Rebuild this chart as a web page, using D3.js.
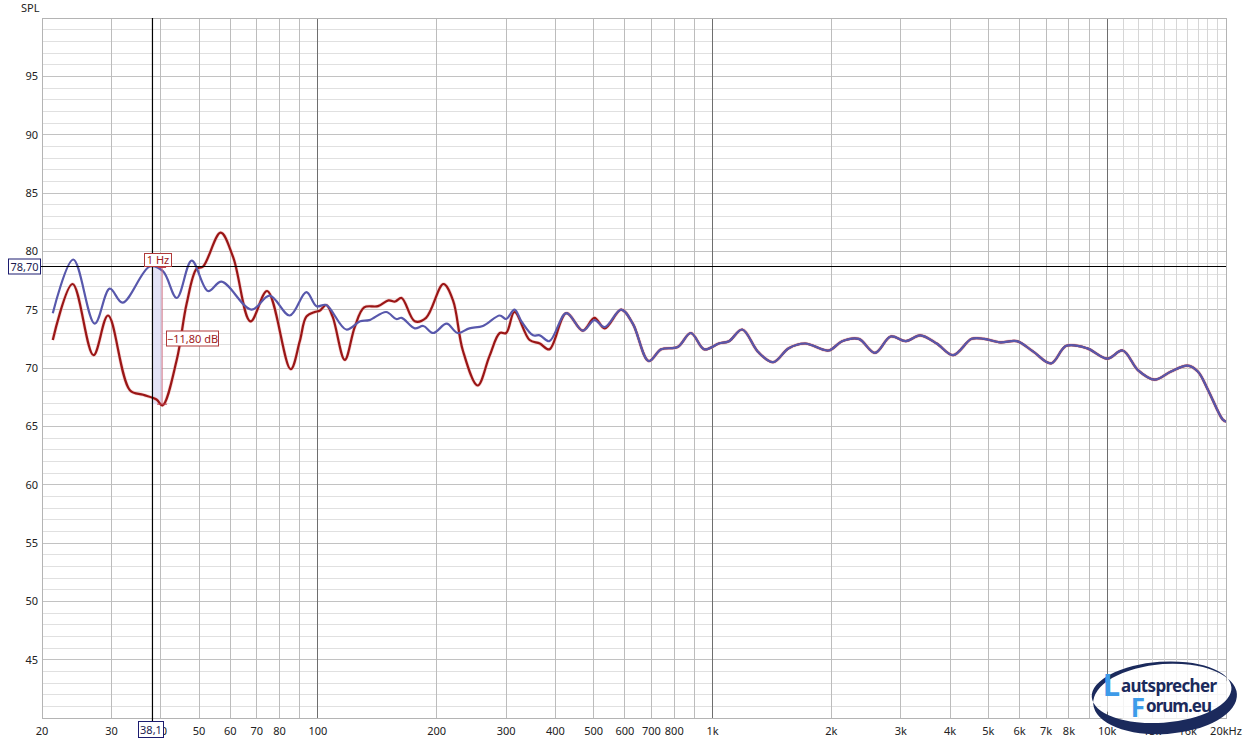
<!DOCTYPE html>
<html>
<head>
<meta charset="utf-8">
<script src="https://cdn.jsdelivr.net/npm/d3@7"></script>
<style>
  body { margin: 0; background: #fff; }
  svg text { font-family: "Noto Sans", "Open Sans", sans-serif; }
</style>
</head>
<body>
<svg id="chart" width="1246" height="743"></svg>
<script>
/* global d3 */
// measured SPL (dB) vs frequency (Hz)
const redFreq = [21.3, 23.9, 27.0, 29.4, 33.4, 36.1, 39.0, 40.4, 43.9, 46.5, 49.3, 51.2, 56.7, 61.0, 67.5, 74.4,
  85.3, 90, 93.5, 98.2, 101, 105, 109, 117, 124, 131, 142, 151, 157, 163, 176, 188, 208, 220, 233, 254, 272, 289,
  300, 315, 344, 365, 386, 426, 469, 502, 533];
const redSpl = [72.4, 77.2, 71.1, 74.5, 68.1, 67.7, 67.3, 66.8, 70.7, 75.5, 78.5, 78.7, 81.6, 79.5, 74.0, 76.6,
  69.9, 72.3, 74.4, 74.8, 74.9, 75.4, 74.4, 70.7, 73.5, 75.2, 75.3, 75.8, 75.7, 76.0, 74.0, 74.3, 77.2, 75.8, 71.5,
  68.5, 71.0, 73.0, 73.0, 74.8, 72.4, 72.1, 71.6, 74.7, 73.2, 74.3, 73.4];

const blueFreq = [21.3, 24.0, 27.2, 29.7, 32.0, 37.5, 40.5, 43.9, 47.9, 52.7, 57.0, 67.9, 75.5, 84.9, 93.5, 99.2,
  105, 118, 128, 135, 149, 158, 163, 176, 185, 196, 212, 226, 242, 262, 289, 300, 315, 328, 351, 365, 386, 426,
  469, 502, 533];
const blueSpl = [74.7, 79.3, 73.8, 76.8, 75.6, 78.7, 78.3, 76.0, 79.2, 76.6, 77.4, 75.0, 76.2, 74.5, 76.5, 75.3,
  75.4, 73.3, 74.0, 74.1, 74.8, 74.2, 74.3, 73.4, 73.6, 73.0, 73.8, 73.0, 73.4, 73.6, 74.5, 74.2, 75.0, 74.0, 72.8,
  72.8, 72.3, 74.7, 73.2, 74.1, 73.5];

// above ~550 Hz both traces coincide
const sharedFreq = [587, 628, 689, 741, 816, 881, 953, 1037, 1101, 1189, 1303, 1424, 1560, 1717, 1968, 2130, 2346,
  2580, 2828, 3090, 3360, 3698, 4070, 4534, 4874, 5364, 5904, 6500, 7208, 7876, 8880, 10006, 10940, 11982, 13188,
  14512, 15982, 16970, 18018, 19594, 20000];
const sharedSpl = [75.0, 73.8, 70.6, 71.6, 71.8, 73.0, 71.6, 72.1, 72.3, 73.3, 71.4, 70.5, 71.7, 72.1, 71.5, 72.3,
  72.5, 71.3, 72.7, 72.3, 72.8, 72.1, 71.1, 72.5, 72.5, 72.2, 72.3, 71.4, 70.4, 71.9, 71.7, 70.8, 71.5, 69.8, 69.0,
  69.7, 70.2, 69.7, 68.1, 65.6, 65.4];

const yTicks = [45, 50, 55, 60, 65, 70, 75, 80, 85, 90, 95];
const xTickValues = [20, 30, 40, 50, 60, 70, 80, 100, 200, 300, 400, 500, 600, 700, 800, 1000, 2000, 3000, 4000,
  5000, 6000, 7000, 8000, 10000, 13000, 16000, 20000];
const xTickLabels = ['20', '30', '40', '50', '60', '70', '80', '100', '200', '300', '400', '500', '600', '700',
  '800', '1k', '2k', '3k', '4k', '5k', '6k', '7k', '8k', '10k', '13k', '16k', '20kHz'];

const cursorFreq = 38.1;
const cursorSpl = 78.70;
const markerFreq = 40.3;
const markerDelta = -11.80;

const main = () => {
  const svg = d3.select('#chart');
  const left = 42;
  const right = 1226;
  const top = 18;
  const bottom = 718;

  const x = d3.scaleLog().domain([20, 20000]).range([left, right]);
  const y = d3.scaleLinear().domain([40, 100]).range([bottom, top]);

  // grid
  const grid = svg.append('g').attr('shape-rendering', 'crispEdges');
  d3.range(41, 100).forEach((v) => {
    grid.append('line')
      .attr('x1', left).attr('x2', right).attr('y1', y(v)).attr('y2', y(v))
      .attr('stroke', v % 5 === 0 ? '#c2c2c2' : '#e0e0e0');
  });
  const minor = [];
  [10, 100, 1000].forEach((d) => {
    for (let k = 2; k <= 9; k += 1) {
      if (d * k > 20) minor.push(d * k);
    }
  });
  minor.forEach((f) => {
    grid.append('line')
      .attr('x1', x(f)).attr('x2', x(f)).attr('y1', top).attr('y2', bottom)
      .attr('stroke', '#bcbcbc');
  });
  d3.range(11, 20).forEach((k) => {
    grid.append('line')
      .attr('x1', x(k * 1000)).attr('x2', x(k * 1000)).attr('y1', top).attr('y2', bottom)
      .attr('stroke', '#d6d6d6');
  });
  [100, 1000, 10000].forEach((f) => {
    grid.append('line')
      .attr('x1', x(f)).attr('x2', x(f)).attr('y1', top).attr('y2', bottom)
      .attr('stroke', '#6e6e6e');
  });
  grid.append('rect')
    .attr('x', left).attr('y', top).attr('width', right - left).attr('height', bottom - top)
    .attr('fill', 'none').attr('stroke', '#b4b4b4');

  // axis labels
  svg.append('text').attr('x', 21).attr('y', 12).attr('font-size', 11).attr('fill', '#222').text('SPL');
  svg.append('g').selectAll('text').data(yTicks).enter().append('text')
    .attr('x', 38).attr('y', (d) => y(d) + 4)
    .attr('text-anchor', 'end').attr('font-size', 11).attr('fill', '#222')
    .text((d) => d);
  svg.append('g').selectAll('text').data(xTickValues).enter().append('text')
    .attr('x', (d) => x(d)).attr('y', 735)
    .attr('text-anchor', 'middle').attr('font-size', 11).attr('fill', '#222')
    .text((d, i) => xTickLabels[i]);

  // traces
  const toPoints = (fs, vs) => fs.map((f, i) => ({ f, v: vs[i] }));
  const shared = toPoints(sharedFreq, sharedSpl);
  const redData = toPoints(redFreq, redSpl).concat(shared);
  const blueData = toPoints(blueFreq, blueSpl).concat(shared);

  svg.append('clipPath').attr('id', 'plotClip').append('rect')
    .attr('x', left).attr('y', top).attr('width', right - left).attr('height', bottom - top);

  const line = d3.line()
    .x((d) => x(d.f))
    .y((d) => y(d.v))
    .curve(d3.curveCatmullRom.alpha(0.5));

  const traces = svg.append('g').attr('clip-path', 'url(#plotClip)');

  // delta marker shading
  const cx = x(cursorFreq);
  const mx = x(markerFreq);
  const markerSpl = cursorSpl + markerDelta;
  traces.append('rect')
    .attr('x', cx).attr('y', y(cursorSpl)).attr('width', mx - cx).attr('height', y(markerSpl) - y(cursorSpl))
    .attr('fill', '#d8d8f4').attr('opacity', 0.7);

  traces.append('path').datum(redData)
    .attr('d', line).attr('fill', 'none')
    .attr('stroke', '#f0b8b8').attr('stroke-width', 3.6).attr('opacity', 0.6);
  traces.append('path').datum(redData)
    .attr('d', line).attr('fill', 'none')
    .attr('stroke', '#9a1616').attr('stroke-width', 2.2);
  traces.append('path').datum(blueData)
    .attr('d', line).attr('fill', 'none')
    .attr('stroke', '#5858ac').attr('stroke-width', 2.2);

  // marker
  traces.append('line')
    .attr('x1', mx).attr('x2', mx).attr('y1', y(cursorSpl)).attr('y2', y(markerSpl))
    .attr('stroke', '#d07080').attr('stroke-width', 1);
  traces.append('line')
    .attr('x1', mx - 4).attr('x2', mx + 4).attr('y1', y(cursorSpl) + 1).attr('y2', y(cursorSpl) + 1)
    .attr('stroke', '#c04050').attr('stroke-width', 1);
  traces.append('line')
    .attr('x1', mx - 5).attr('x2', mx + 5).attr('y1', y(markerSpl)).attr('y2', y(markerSpl))
    .attr('stroke', '#c04050').attr('stroke-width', 1);

  // cursor lines
  svg.append('line')
    .attr('x1', cx).attr('x2', cx).attr('y1', top).attr('y2', 722)
    .attr('stroke', '#000').attr('stroke-width', 1.2);
  svg.append('line')
    .attr('x1', 41).attr('x2', right).attr('y1', y(cursorSpl)).attr('y2', y(cursorSpl))
    .attr('stroke', '#000').attr('stroke-width', 1.2);

  const box = (bx, by, w, h, label, stroke, color) => {
    svg.append('rect')
      .attr('x', bx).attr('y', by).attr('width', w).attr('height', h)
      .attr('fill', '#fff').attr('stroke', stroke).attr('stroke-width', 1);
    svg.append('text')
      .attr('x', bx + w / 2).attr('y', by + h / 2 + 4)
      .attr('text-anchor', 'middle').attr('font-size', 11).attr('fill', color)
      .text(label);
  };
  box(8.5, y(cursorSpl) - 7.5, 32, 15, d3.format('.2f')(cursorSpl).replace('.', ','), '#1c1c70', '#1c1c50');
  box(138.5, 721.5, 25, 16, String(cursorFreq).replace('.', ','), '#1c1c70', '#1c1c50');
  box(144.5, y(cursorSpl) - 13, 27, 13, '1 Hz', '#b03a3a', '#a02020');
  box(166.5, 331, 52, 15, `${d3.format('.2f')(markerDelta).replace('.', ',')} dB`, '#b03a3a', '#a02020');

  // forum logo
  const logo = svg.append('g');
  logo.append('ellipse')
    .attr('cx', 1164).attr('cy', 694).attr('rx', 69).attr('ry', 31)
    .attr('fill', '#fff').attr('opacity', 0.72);
  const ring = (ox, oy, orx, ory, ix, iy, irx, iry) =>
    `M${ox - orx},${oy}a${orx},${ory} 0 1,0 ${2 * orx},0a${orx},${ory} 0 1,0 ${-2 * orx},0Z` +
    `M${ix - irx},${iy}a${irx},${iry} 0 1,0 ${2 * irx},0a${irx},${iry} 0 1,0 ${-2 * irx},0Z`;
  logo.append('path')
    .attr('d', ring(1165, 699, 72, 35, 1162, 692, 70, 30.5))
    .attr('fill', '#1b2a5c').attr('fill-rule', 'evenodd')
    .attr('transform', 'rotate(-4 1165 698)');
  logo.append('text')
    .attr('x', 1120).attr('y', 696).attr('font-size', 31).attr('font-weight', 700)
    .attr('text-anchor', 'end').attr('fill', '#3d9be9').text('L');
  logo.append('text')
    .attr('x', 1121).attr('y', 692).attr('font-size', 17).attr('font-weight', 700)
    .attr('fill', '#1b2a5c').attr('textLength', 96).text('autsprecher');
  logo.append('text')
    .attr('x', 1145).attr('y', 717).attr('font-size', 26).attr('font-weight', 700)
    .attr('text-anchor', 'end').attr('fill', '#3d9be9').text('F');
  logo.append('text')
    .attr('x', 1146).attr('y', 712).attr('font-size', 17).attr('font-weight', 700)
    .attr('fill', '#1b2a5c').attr('textLength', 66).text('orum.eu');
};
main();
</script>
</body>
</html>
